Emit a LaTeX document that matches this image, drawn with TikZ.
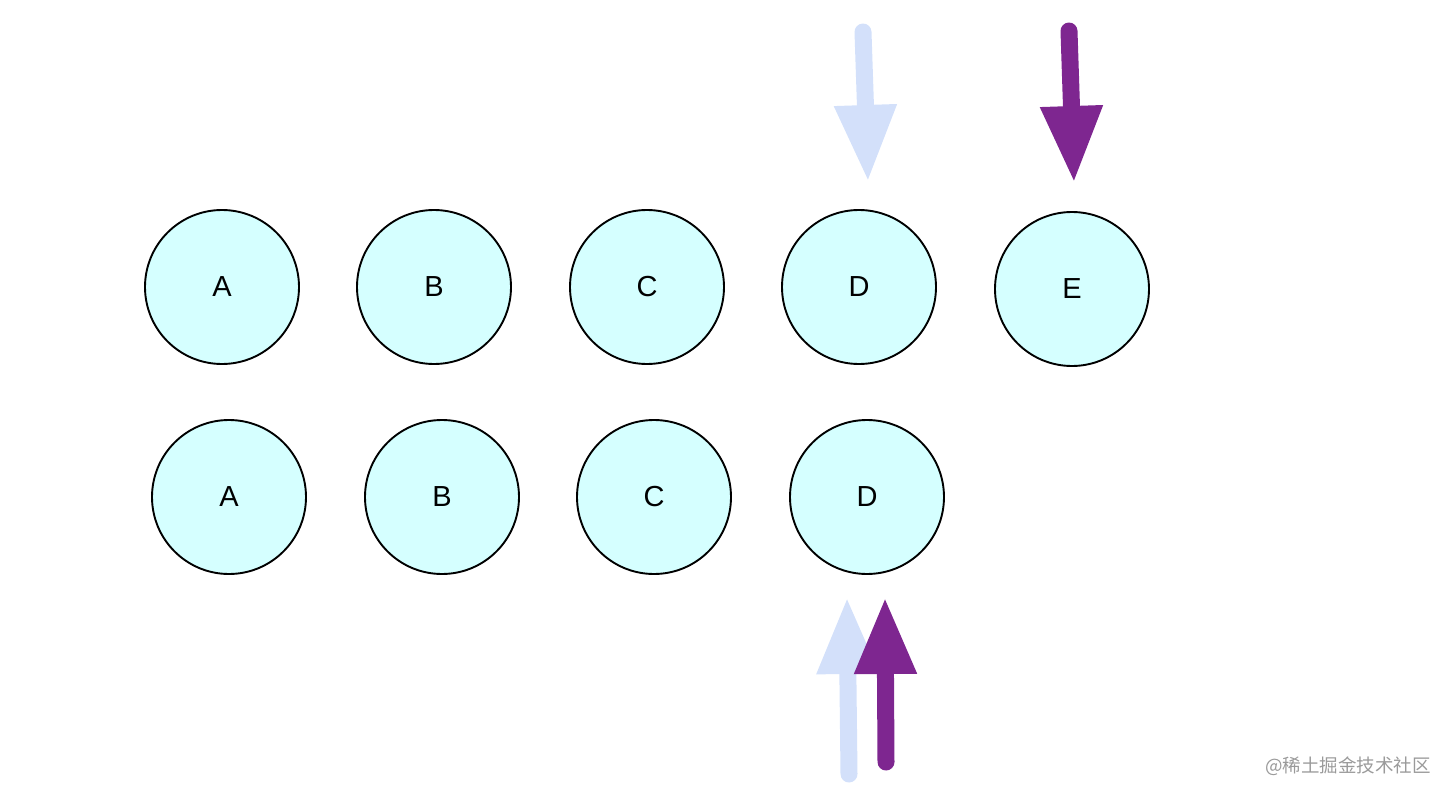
\documentclass[tikz,border=0pt]{standalone}
\usepackage{fontspec}
\setmainfont{Liberation Sans}
\newfontfamily\cjk{Noto Sans CJK SC}
\usetikzlibrary{arrows.meta}
\definecolor{nodefill}{HTML}{D5FFFF}
\definecolor{lightarr}{HTML}{D3E0FA}
\definecolor{purparr}{HTML}{7E2690}
\definecolor{wmgray}{HTML}{9A9A9A}
\tikzset{
  ball/.style={circle, draw=black, line width=1.9pt, fill=nodefill, minimum size=154pt, inner sep=0pt, font=\fontsize{29}{32}\selectfont},
  fatarrow/.style={line width=17pt, line cap=round, -{Triangle[width=58pt,length=77pt]}},
}
\begin{document}
\begin{tikzpicture}[x=1pt,y=-1pt]
\useasboundingbox (0,0) rectangle (1452,798);
% row 1
\node[ball] (a1) at (222,287) {A};
\node[ball] (b1) at (434,287) {B};
\node[ball] (c1) at (647,287) {C};
\node[ball] (d1) at (859,287) {D};
\node[ball] (e1) at (1072,289) {E};
% row 2
\node[ball] (a2) at (229,497) {A};
\node[ball] (b2) at (442,497) {B};
\node[ball] (c2) at (654,497) {C};
\node[ball] (d2) at (867,497) {D};
% arrows
\coordinate (ls1) at (863,32);
\coordinate (lt1) at (868,182);
\coordinate (ps1) at (1069,31);
\coordinate (pt1) at (1074,183);
\coordinate (ls2) at (849,774);
\coordinate (lt2) at (847,597);
\coordinate (ps2) at (886,762);
\coordinate (pt2) at (885,597);
\draw[fatarrow, lightarr] (ls1) -- (lt1);
\draw[fatarrow, purparr] (ps1) -- (pt1);
\draw[fatarrow, lightarr] (ls2) -- (lt2);
\draw[fatarrow, purparr] (ps2) -- (pt2);
% watermark
\node[anchor=east, text=wmgray, font=\cjk\fontsize{18.5}{21}\selectfont, inner sep=0pt] (wm) at (1431,766) {@稀土掘金技术社区};
\end{tikzpicture}
\end{document}
